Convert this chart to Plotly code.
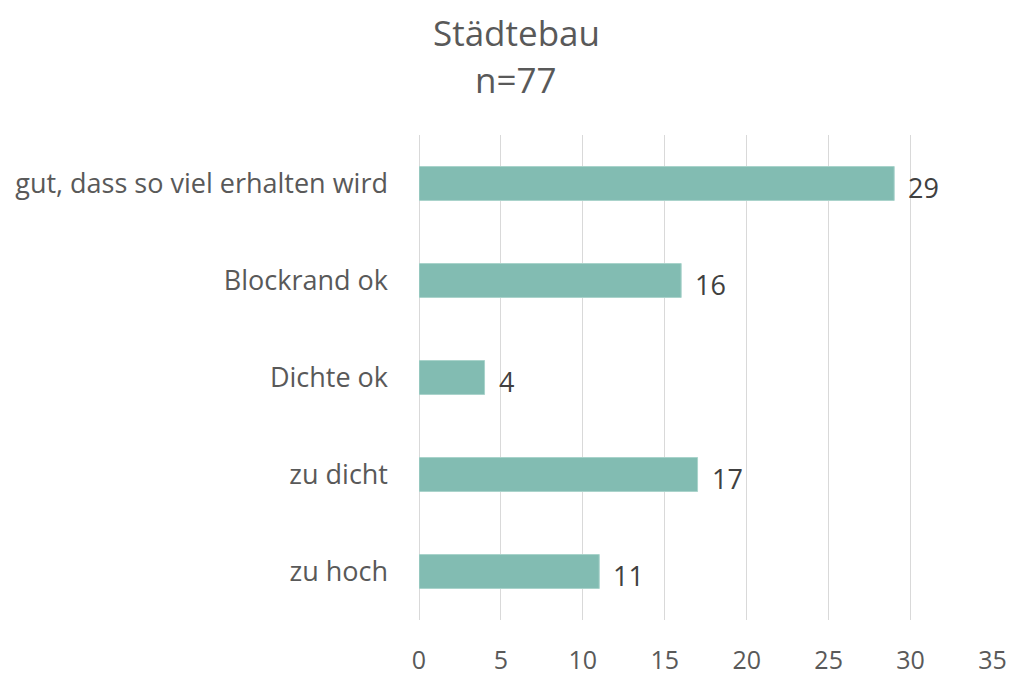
import plotly.graph_objects as go

categories = ["gut, dass so viel erhalten wird", "Blockrand ok", "Dichte ok", "zu dicht", "zu hoch"]
values = [29, 16, 4, 17, 11]
x_ticks = [0, 5, 10, 15, 20, 25, 30, 35]
title_lines = ["Städtebau", "n=77"]

bar_color = "#82BCB2"
text_color = "#595959"
grid_color = "#D9D9D9"
font_family = "Open Sans"

fig = go.Figure()
fig.add_trace(go.Bar(
    y=categories,
    x=values,
    orientation="h",
    marker=dict(color=bar_color, line=dict(color="#A9D3CB", width=1)),
    width=0.35,
    hoverinfo="x+y",
))

# value labels to the right of each bar
for cat, val in zip(categories, values):
    fig.add_annotation(
        x=val, y=cat, text=str(val), showarrow=False,
        xanchor="left", yanchor="middle", xshift=12, yshift=-4,
        font=dict(family=font_family, size=27, color="#404040"),
    )

# two-line chart title above the plot area
for line, ypos in zip(title_lines, [32, 80]):
    fig.add_annotation(
        x=516, y=ypos, xref="paper", yref="paper", text=line,
        showarrow=False, xanchor="center", yanchor="middle",
        font=dict(family=font_family, size=35, color=text_color),
    )

# annotation positions above are given in pixels; convert to paper coordinates
plot_l, plot_r, plot_t, plot_b = 419, 20, 135, 57
plot_w = 1013 - plot_l - plot_r
plot_h = 677 - plot_t - plot_b
for ann in fig.layout.annotations:
    if ann.xref == "paper":
        ann.x = (ann.x - plot_l) / plot_w
        ann.y = (677 - plot_b - ann.y) / plot_h

fig.update_layout(
    width=1013, height=677,
    margin=dict(l=plot_l, r=plot_r, t=plot_t, b=plot_b, autoexpand=False),
    paper_bgcolor="white", plot_bgcolor="white",
    showlegend=False,
    font=dict(family=font_family, size=27, color=text_color),
    xaxis=dict(
        range=[0, 35.03], tickvals=x_ticks, showgrid=True, gridcolor=grid_color,
        gridwidth=1, zeroline=True, zerolinecolor=grid_color, zerolinewidth=1,
        showline=False, ticks="", ticklabelstandoff=23, fixedrange=True,
        automargin=False, tickfont=dict(size=25),
    ),
    yaxis=dict(
        categoryorder="array", categoryarray=categories[::-1],
        showgrid=False, zeroline=False, showline=False, ticks="",
        ticklabelstandoff=30, automargin=False,
    ),
    bargap=0.65,
)

fig.write_html("out.html")
